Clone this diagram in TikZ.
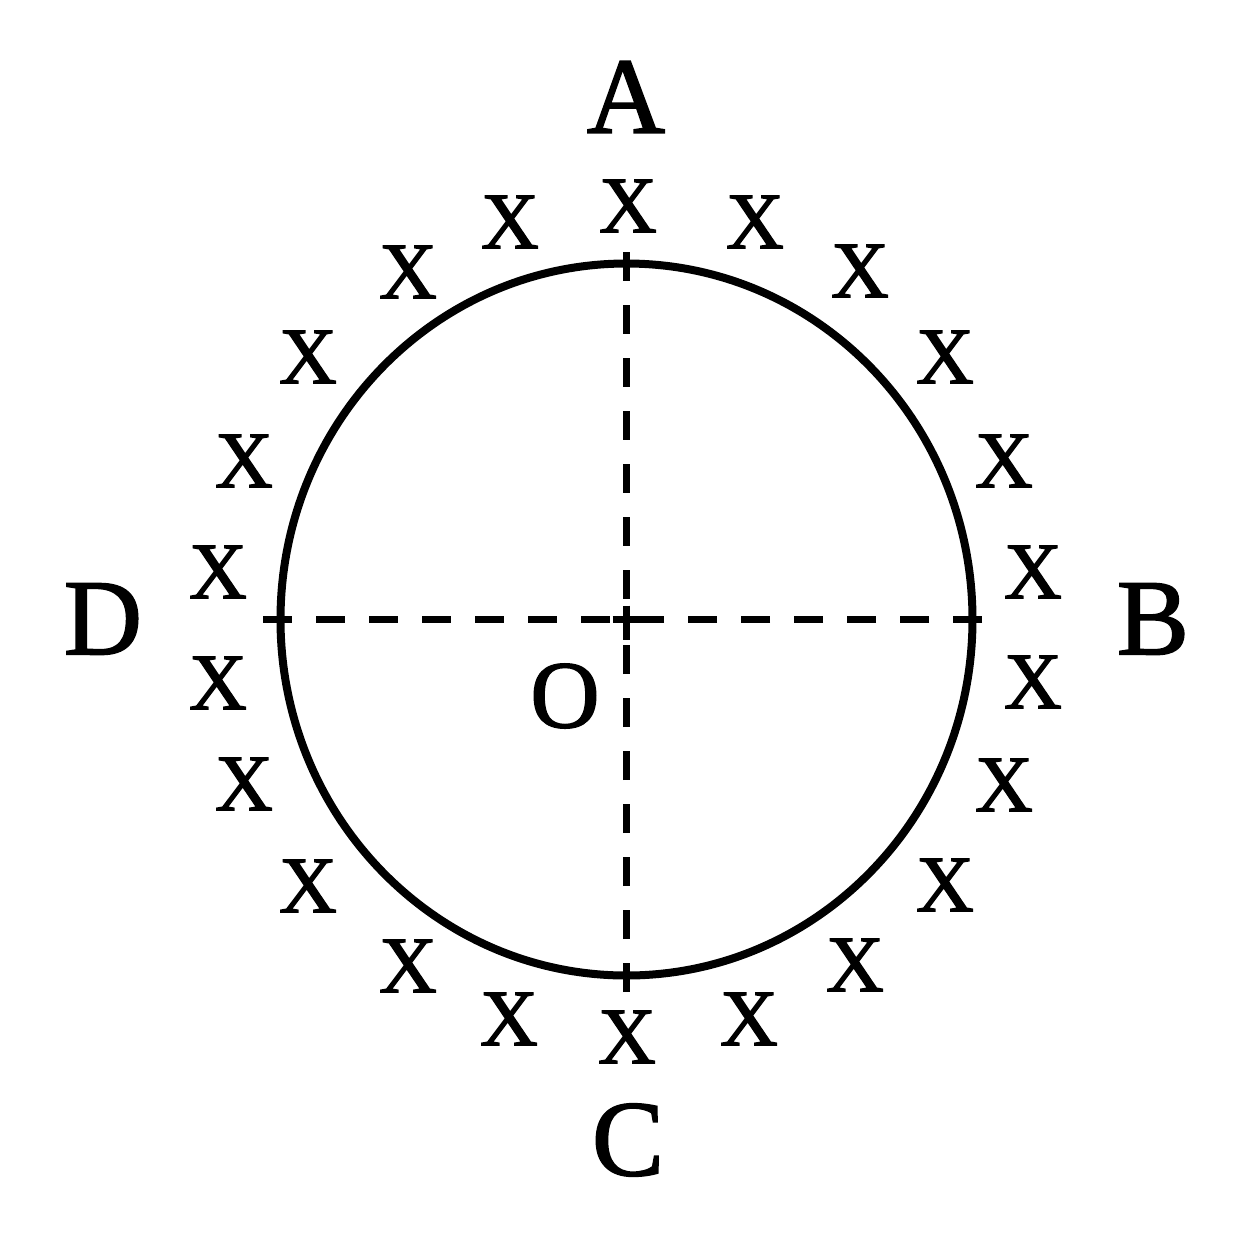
\documentclass[tikz,border=0pt]{standalone}
\usepackage{fontspec}
\setmainfont{Liberation Serif}
\newfontfamily\heavy[FakeBold=1.6]{Liberation Serif}
\begin{document}
\begin{tikzpicture}[x=1pt,y=-1pt,
  fx/.style={inner sep=0pt,font=\heavy\fontsize{80}{80}\selectfont},
  lbl/.style={inner sep=0pt,font=\heavy\fontsize{108}{108}\selectfont},
  axis/.style={line width=7pt,dash pattern=on 29pt off 24pt},
  rim/.style={line width=8pt}]
\useasboundingbox[fill=white] (0,0) rectangle (1254,1254);
\coordinate (ctr) at (626.5,619.5);
\coordinate (top) at (626.5,252);
\coordinate (bot) at (626.5,992);
\coordinate (lft) at (263,619.5);
\coordinate (rgt) at (982,619.5);
\draw[rim] (ctr) ellipse [x radius=346, y radius=356];
\draw[axis] (top) -- (ctr);
\draw[axis] (bot) -- (ctr);
\draw[axis] (lft) -- (ctr);
\draw[axis] (rgt) -- (ctr);
\draw[line width=7pt] (ctr) +(-14,0) -- +(14,0);
\draw[line width=7pt] (ctr) +(0,-14) -- +(0,20);
\node[lbl] (A) at (626,97) {A};
\node[lbl] (B) at (1153,619) {B};
\node[lbl] (C) at (628,1140) {C};
\node[lbl] (D) at (103,619) {D};
\node[inner sep=0pt,font=\heavy\fontsize{96}{96}\selectfont] (O) at (565,696) {O};
\node[fx] (x1) at (628,206) {X};
\node[fx] (x2) at (510,222) {X};
\node[fx] (x3) at (755,222) {X};
\node[fx] (x4) at (408,272) {X};
\node[fx] (x5) at (860,271) {X};
\node[fx] (x6) at (308,357) {X};
\node[fx] (x7) at (945,357) {X};
\node[fx] (x8) at (244,461) {X};
\node[fx] (x9) at (1004,461) {X};
\node[fx] (x10) at (218,572) {X};
\node[fx] (x11) at (1033,572) {X};
\node[fx] (x12) at (218,683) {X};
\node[fx] (x13) at (1033,682) {X};
\node[fx] (x14) at (244,784) {X};
\node[fx] (x15) at (1004,785) {X};
\node[fx] (x16) at (308,886) {X};
\node[fx] (x17) at (945,885) {X};
\node[fx] (x18) at (408,966) {X};
\node[fx] (x19) at (855,965) {X};
\node[fx] (x20) at (509,1019) {X};
\node[fx] (x21) at (749,1019) {X};
\node[fx] (x22) at (627,1037) {X};
\end{tikzpicture}
\end{document}
